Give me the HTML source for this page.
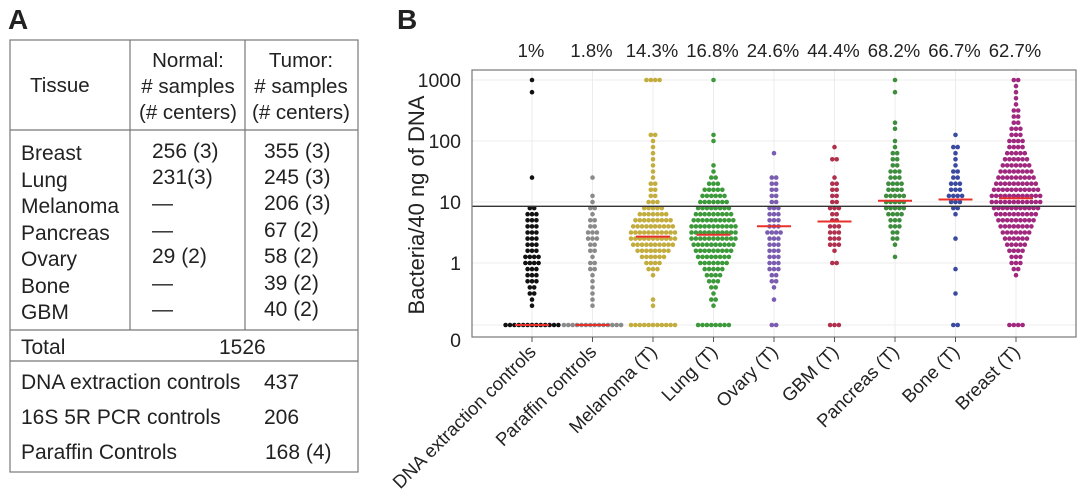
<!DOCTYPE html>
<html><head><meta charset="utf-8"><style>
body{margin:0;background:#fff;}
svg{display:block;font-family:"Liberation Sans",sans-serif;}
</style></head><body>
<svg width="1080" height="504" viewBox="0 0 1080 504">
<g font-size="21" fill="#222">
<text x="8" y="29" font-size="28" font-weight="bold">A</text>
<g stroke="#777" stroke-width="1.2" fill="none">
<rect x="10" y="40" width="348" height="432"/>
<line x1="10" y1="130" x2="358" y2="130"/>
<line x1="130" y1="40" x2="130" y2="330"/>
<line x1="245" y1="40" x2="245" y2="330"/>
<line x1="10" y1="330" x2="358" y2="330"/>
<line x1="10" y1="361" x2="358" y2="361"/>
</g>
<g font-size="20.5">
<text x="30" y="92">Tissue</text>
<text x="188" y="67" text-anchor="middle">Normal:</text>
<text x="188" y="93" text-anchor="middle"># samples</text>
<text x="188" y="119" text-anchor="middle">(# centers)</text>
<text x="301" y="67" text-anchor="middle">Tumor:</text>
<text x="301" y="93" text-anchor="middle"># samples</text>
<text x="301" y="119" text-anchor="middle">(# centers)</text>
</g>
<g>
<text x="21" y="160">Breast</text><text x="152" y="158">256 (3)</text><text x="264" y="158">355 (3)</text>
<text x="21" y="187">Lung</text><text x="152" y="184">231(3)</text><text x="264" y="184">245 (3)</text>
<text x="21" y="213">Melanoma</text><text x="152" y="210">—</text><text x="264" y="210">206 (3)</text>
<text x="21" y="240">Pancreas</text><text x="152" y="237">—</text><text x="264" y="237">67 (2)</text>
<text x="21" y="266">Ovary</text><text x="152" y="263">29 (2)</text><text x="264" y="263">58 (2)</text>
<text x="21" y="293">Bone</text><text x="152" y="290">—</text><text x="264" y="290">39 (2)</text>
<text x="21" y="319">GBM</text><text x="152" y="316">—</text><text x="264" y="316">40 (2)</text>
<text x="21" y="354">Total</text><text x="219" y="354">1526</text>
<text x="21" y="389">DNA extraction controls</text><text x="264" y="389">437</text>
<text x="21" y="424">16S 5R PCR controls</text><text x="264" y="424">206</text>
<text x="21" y="459">Paraffin Controls</text><text x="265" y="459">168 (4)</text>
</g>
</g>
<text x="397" y="29" font-size="28" font-weight="bold" fill="#222">B</text>
<g id="chart"></g>
</svg>
<script>
const categories=["DNA extraction controls","Paraffin controls","Melanoma (T)","Lung (T)","Ovary (T)","GBM (T)","Pancreas (T)","Bone (T)","Breast (T)"];
const percentLabels=["1%","1.8%","14.3%","16.8%","24.6%","44.4%","68.2%","66.7%","62.7%"];
const colors=["#111","#8a8a8a","#c2ad3e","#3d9a3a","#7a5cb0","#b0304e","#3e8c3e","#3a4aa0","#a0287e"];
const medians=[0,0,2.7,2.9,4,4.8,10.5,11,11.5];
const zeroCounts=[13,14,11,8,2,3,0,2,4];
const threshold=8.5;
const yTicks=[0,1,10,100,1000];
// counts per 0.1-decade bin, bin i centered at log10(v) = -0.7 + 0.1*i
const binsDNA=[1,1,2,2,3,3,3,4,4,3,3,3,3,3,3,3,2,0,0,0,0,1,0,0,0,0,0,0,0,0,0,0,0,0,0,1,0,1];
const binsParaffin=[1,1,1,1,1,1,2,2,1,2,2,3,3,2,2,1,2,1,1,0,0,1];
const binsMelanoma=[1,1,0,0,0,1,3,4,6,8,10,11,11,10,9,7,5,3,2,2,2,1,1,1,1,1,1,1,2,0,0,0,0,0,0,0,0,4];
const binsLung=[1,2,1,2,3,4,5,7,8,9,10,11,11,11,10,9,8,7,6,5,3,2,1,1,0,0,0,1,1,0,0,0,0,0,0,0,0,1];
const binsOvary=[0,1,0,1,2,2,3,3,3,3,3,3,4,3,3,3,3,2,2,2,2,2,0,0,0,1];
const binsGBM=[0,0,0,0,0,0,0,2,0,1,3,3,3,3,2,2,3,2,2,2,2,1,0,0,2,0,1];
const binsPancreas=[0,0,0,0,0,0,0,0,1,0,1,2,2,3,3,4,5,5,5,4,4,3,3,2,2,2,1,1,0,1,1,0,0,0,0,1,0,1];
const binsBone=[0,0,1,0,0,0,1,0,0,0,0,1,0,0,0,1,2,3,4,3,3,2,2,1,1,1,2,0,1];
const binsBreast=[0,0,0,0,0,1,2,3,3,4,5,6,7,8,9,10,11,12,12,11,10,9,8,7,6,5,4,4,3,3,2,2,2,1,1,1,1,2];
const allBins=[binsDNA,binsParaffin,binsMelanoma,binsLung,binsOvary,binsGBM,binsPancreas,binsBone,binsBreast];

const NS="http://www.w3.org/2000/svg";
const L=472,R=1076,T=70,B=337;
const x0=532,dx=60.5;
function xPos(i){return x0+dx*i;}
function yPos(v){return v<=0?325:263-61*Math.log10(v);}
const g=document.getElementById('chart');
function mk(tag,attrs,parent){const e=document.createElementNS(NS,tag);for(const k in attrs)e.setAttribute(k,attrs[k]);(parent||g).appendChild(e);return e;}

yTicks.forEach(t=>{
  const ln=mk('line',{x1:L,x2:R,y1:yPos(t),y2:yPos(t),stroke:'#ececec','stroke-width':1});
  
  
});
categories.forEach((c,i)=>{
  const ln=mk('line',{x1:xPos(i),x2:xPos(i),y1:T,y2:B,stroke:'#ececec','stroke-width':1});
  
  
});
const sp=4.4,r=2.3;
allBins.forEach((bins,gi)=>{
  const grp=mk('g',{fill:colors[gi]});
  
  
  bins.forEach((n,bi)=>{
    const v=Math.pow(10,-0.7+0.1*bi);
    for(let k=0;k<n;k++){
      const off=(k-(n-1)/2)*sp;
      const c=mk('circle',{cx:xPos(gi)+off,cy:yPos(v),r:r},grp);
      
      
    }
  });
  const nz=zeroCounts[gi];
  for(let k=0;k<nz;k++){
    const off=(k-(nz-1)/2)*sp;
    const c=mk('circle',{cx:xPos(gi)+off,cy:yPos(0),r:r},grp);
    
    
  }
  const m=mk('line',{x1:xPos(gi)-17,x2:xPos(gi)+17,y1:yPos(medians[gi]),y2:yPos(medians[gi]),stroke:'#e8302a','stroke-width':2});
  
  
});
const th=mk('line',{x1:L,x2:R,y1:yPos(threshold),y2:yPos(threshold),stroke:'#333','stroke-width':1.4});


const fr=mk('rect',{x:L,y:T,width:R-L,height:B-T,fill:'none',stroke:'#777','stroke-width':1.2});


yTicks.forEach(t=>{
  const y=t===0?340:yPos(t);
  const tx=mk('text',{x:461,y:y+7,'text-anchor':'end','font-size':19.5,fill:'#222'});
  tx.textContent=String(t);
  
  
});
const yt=mk('text',{x:0,y:0,transform:'translate(424,205) rotate(-90)','text-anchor':'middle','font-size':22,fill:'#222'});
yt.textContent='Bacteria/40 ng of DNA';


categories.forEach((c,i)=>{
  const tk=mk('line',{x1:xPos(i),x2:xPos(i),y1:B,y2:B+5,stroke:'#555','stroke-width':1});
  
  
  const tx=mk('text',{x:0,y:0,transform:`translate(${xPos(i)+5},${B+16}) rotate(-45)`,'text-anchor':'end','font-size':18.5,fill:'#222'});
  tx.textContent=c;
  
  
  const p=mk('text',{x:xPos(i)-1,y:57,'text-anchor':'middle','font-size':18.5,fill:'#222'});
  p.textContent=percentLabels[i];
  
  
});
</script>
</body></html>
